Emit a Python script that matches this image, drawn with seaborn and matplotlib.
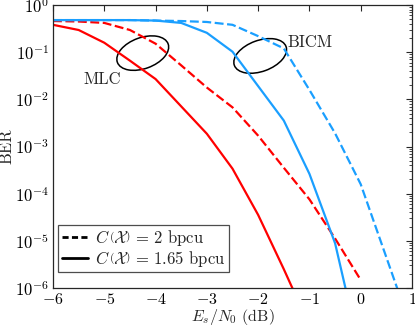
import numpy as np
import pandas as pd
import seaborn as sns
import matplotlib
matplotlib.use("Agg")
import matplotlib.pyplot as plt
from matplotlib.patches import Ellipse
from matplotlib.lines import Line2D
import matplotlib.transforms as mtransforms

# Data (Es/N0 in dB, BER as log10 values)
snr = [-6, -5.5, -5, -4.5, -4, -3.5, -3, -2.5, -2, -1.5, -1, -0.5, 0]
mlc_165_log = [-0.42, -0.53, -0.80, -1.18, -1.57, -2.15, -2.73, -3.47, -4.45, -5.6, -6.8, -8.0, -9.2]
mlc_2_log = [-0.34, -0.35, -0.38, -0.53, -0.82, -1.28, -1.75, -2.17, -2.77, -3.45, -4.12, -4.95, -5.83]
snr_b165 = [-6, -5.5, -5, -4.5, -4, -3.5, -3, -2.5, -2, -1.5, -1, -0.5, 0]
bicm_165_log = [-0.32, -0.32, -0.32, -0.32, -0.33, -0.38, -0.59, -0.99, -1.72, -2.45, -3.58, -5.05, -7.4]
snr_b2 = [-6, -5.5, -5, -4.5, -4, -3.5, -3, -2.5, -2, -1.5, -1, -0.5, 0, 0.5, 1]
bicm_2_log = [-0.32, -0.32, -0.32, -0.32, -0.33, -0.34, -0.36, -0.42, -0.66, -0.92, -1.8, -2.72, -3.8, -5.35, -6.9]

legend_labels = [r"$C\,\left(\mathcal{X}\right)\,=\,2$ bpcu", r"$C\,\left(\mathcal{X}\right)\,=\,1.65$ bpcu"]

sns.set_style("white")
plt.rcParams["font.family"] = ["cmr10", "DejaVu Serif"]
plt.rcParams["mathtext.fontset"] = "cm"
plt.rcParams["axes.formatter.use_mathtext"] = True
plt.rcParams["font.size"] = 12

red = "#ff0000"
blue = "#1a9fff"

fig = plt.figure(figsize=(4.15, 3.27), dpi=100)
ax = fig.add_axes([53/415, 39/327, (412-53)/415, (288-5)/327])

def frame(x, y):
    return pd.DataFrame({"x": x, "y": 10.0 ** np.array(y)})

dash = (4, 1.6)
lw = 1.6
sns.lineplot(data=frame(snr, mlc_165_log), x="x", y="y", ax=ax, color=red, lw=lw)
sns.lineplot(data=frame(snr, mlc_2_log), x="x", y="y", ax=ax, color=red, lw=lw)
ax.lines[-1].set_dashes(dash)
sns.lineplot(data=frame(snr_b165, bicm_165_log), x="x", y="y", ax=ax, color=blue, lw=lw)
sns.lineplot(data=frame(snr_b2, bicm_2_log), x="x", y="y", ax=ax, color=blue, lw=lw)
ax.lines[-1].set_dashes(dash)

ax.set_yscale("log")
ax.set_xlim(-6, 1)
ax.set_ylim(1e-6, 1)
ax.set_xticks(range(-6, 2))
ax.set_yticks([10.0 ** k for k in range(-6, 1)])
ax.yaxis.set_minor_locator(matplotlib.ticker.LogLocator(base=10, subs=np.arange(2, 10), numticks=20))
ax.yaxis.set_minor_formatter(matplotlib.ticker.NullFormatter())
ax.tick_params(which="both", direction="in", top=True, right=True, colors="0.15", labelcolor="black")
ax.tick_params(which="major", length=4, width=0.8)
ax.tick_params(axis="x", which="major", pad=3, labelsize=11.5)
ax.tick_params(axis="y", which="major", pad=3)
ax.tick_params(which="minor", length=2, width=0.6)
for s in ax.spines.values():
    s.set_color("0.15")
    s.set_linewidth(0.9)

ax.set_xlabel(r"$E_s/N_0$ (dB)", labelpad=0, fontsize=11.5)
ax.set_ylabel("BER", labelpad=0)

# Ellipse annotations
def add_ellipse(cx, cy, w, h, ang):
    t = fig.dpi_scale_trans + mtransforms.ScaledTranslation(cx, cy, ax.transData)
    e = Ellipse((0, 0), w / 100, h / 100, angle=ang, transform=t, fill=False,
                edgecolor="black", lw=1.1)
    ax.add_patch(e)

add_ellipse(-4.25, 10 ** -1.02, 54, 31, 20)
add_ellipse(-1.96, 10 ** -1.08, 55, 31, 20)
ax.text(-5.03, 10 ** -1.57, "MLC", ha="center", va="center")
ax.text(-0.99, 10 ** -0.8, "BICM", ha="center", va="center")

handles = [Line2D([], [], color="black", lw=2, dashes=(2.2, 1.2)),
           Line2D([], [], color="black", lw=2)]
leg = ax.legend(handles, legend_labels, loc="lower left", bbox_to_anchor=(0.015, 0.055),
                frameon=True, fancybox=False, framealpha=1, edgecolor="0.3",
                handlelength=1.6, handletextpad=0.4, borderpad=0.2, labelspacing=0.05,
                borderaxespad=0)
leg.get_frame().set_linewidth(0.9)

fig.savefig("out.png", dpi=100)
